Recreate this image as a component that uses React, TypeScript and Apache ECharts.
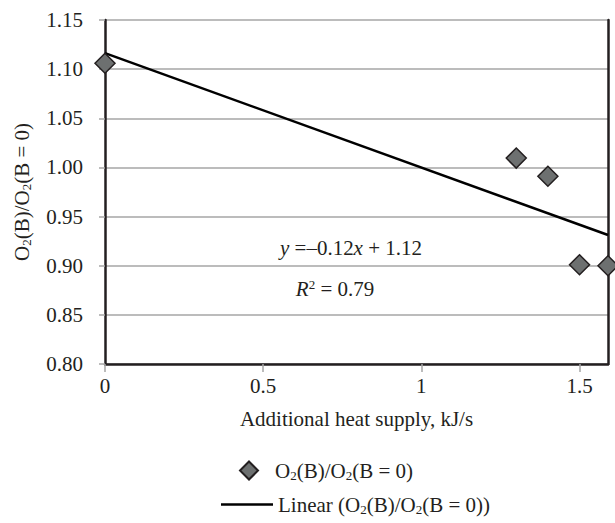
import React, { useEffect, useRef } from 'react';
import * as echarts from 'echarts';

const heatSupply = [0, 1.3, 1.4, 1.5, 1.59];
const o2Ratio = [1.106, 1.0095, 0.991, 0.901, 0.9];
const xLabels = ['0', '0.5', '1', '1.5'];
const seriesName = 'O2(B)/O2(B = 0)';
const trendName = 'Linear (O2(B)/O2(B = 0))';
const xAxisTitle = 'Additional heat supply, kJ/s';
const yAxisTitle = 'O2(B)/O2(B = 0)';
const equationText = ['y', ' =\u20130.12', 'x', ' + 1.12'];
const r2Text = ['R', '2', ' = 0.79'];

const FONT = 'Liberation Serif';
const TXT = '#231f20';
const FS = 21;

const richO2 = (s: string) =>
  s
    .split('O2')
    .map((p) => (p ? `{a|${p}}` : ''))
    .join('{a|O}{s|2}');

const baseRich = (size: number) => ({
  a: { fontFamily: FONT, fontSize: size, color: TXT, lineHeight: 22 },
  s: { fontFamily: FONT, fontSize: size * 0.62, color: TXT, lineHeight: 8, verticalAlign: 'bottom' as const },
  sp: { width: 12, lineHeight: 22 },
});

function linReg(xs: number[], ys: number[]) {
  const n = xs.length;
  const mx = xs.reduce((a, b) => a + b, 0) / n;
  const my = ys.reduce((a, b) => a + b, 0) / n;
  let sxy = 0;
  let sxx = 0;
  for (let i = 0; i < n; i++) {
    sxy += (xs[i] - mx) * (ys[i] - my);
    sxx += (xs[i] - mx) ** 2;
  }
  const k = sxy / sxx;
  return { k, b: my - k * mx };
}

export default function App() {
  const ref = useRef<HTMLDivElement>(null);
  useEffect(() => {
    if (!ref.current) return;
    const chart = echarts.init(ref.current, undefined, { renderer: 'svg' });
    const xMax = Math.max(...heatSupply);
    const { k, b } = linReg(heatSupply, o2Ratio);
    const trend = [
      [0, b],
      [xMax, b + k * xMax],
    ];
    chart.setOption({
      animation: false,
      backgroundColor: '#fff',
      textStyle: { fontFamily: FONT },
      grid: { left: 105, right: 7, top: 20, bottom: 159, containLabel: false },
      xAxis: {
        type: 'value',
        min: 0,
        max: xMax,
        interval: 0.5,
        name: `{a|${xAxisTitle}}`,
        nameLocation: 'middle',
        nameGap: 44,
        nameTextStyle: { rich: baseRich(FS) },
        axisLine: { show: true, onZero: false, lineStyle: { color: TXT, width: 2.5 } },
        axisTick: { show: true, length: 8, lineStyle: { color: '#a6a6a6', width: 1.5 } },
        axisLabel: {
          showMaxLabel: false,
          margin: 11,
          rich: baseRich(FS),
          formatter: (v: number) => {
            const i = Math.round(v / 0.5);
            return Math.abs(v - i * 0.5) < 1e-6 && xLabels[i] !== undefined ? `{a|${xLabels[i]}}` : '';
          },
        },
        splitLine: { show: false },
      },
      yAxis: [
        {
          type: 'value',
          min: 0.8,
          max: 1.15,
          interval: 0.05,
          name: richO2(yAxisTitle),
          nameLocation: 'middle',
          nameGap: 72,
          nameTextStyle: { rich: baseRich(FS) },
          axisLine: { show: true, lineStyle: { color: TXT, width: 2.5 } },
          axisTick: { show: true, length: 6, lineStyle: { color: '#a6a6a6', width: 1.5 } },
          axisLabel: {
            margin: 22,
            rich: baseRich(FS),
            formatter: (v: number) => `{a|${v.toFixed(2)}}`,
          },
          splitLine: { show: true, lineStyle: { color: '#a6a6a6', width: 1.5 } },
        },
        {
          type: 'value',
          position: 'right',
          min: 0.8,
          max: 1.15,
          interval: 0.05,
          axisLine: { show: true, lineStyle: { color: TXT, width: 2.5 } },
          axisTick: { show: false },
          axisLabel: { show: false },
          splitLine: { show: false },
        },
      ],
      legend: [
        {
          data: [seriesName],
          left: 234,
          top: 455,
          itemWidth: 18,
          itemHeight: 18,
          formatter: (n: string) => '{sp|}' + richO2(n),
          textStyle: { rich: baseRich(FS) },
        },
        {
          data: [{ name: trendName, icon: 'rect' }],
          left: 216,
          top: 489,
          itemWidth: 52,
          itemHeight: 2.5,
          formatter: (n: string) => richO2(n),
          textStyle: { rich: baseRich(FS) },
        },
      ],
      series: [
        {
          name: trendName,
          type: 'line',
          data: trend,
          symbol: 'none',
          lineStyle: { color: '#000', width: 2.5 },
          itemStyle: { color: '#000' },
          z: 2,
          clip: false,
        },
        {
          name: seriesName,
          type: 'scatter',
          data: heatSupply.map((x, i) => [x, o2Ratio[i]]),
          symbol: 'diamond',
          symbolSize: 20,
          itemStyle: { color: '#6d7070', borderColor: '#231f20', borderWidth: 1.5, opacity: 1 },
          z: 3,
          clip: false,
        },
      ],
      graphic: [
        {
          type: 'text',
          x: 351,
          y: 248,
          style: {
            text: `{i|${equationText[0]}}{n|${equationText[1]}}{i|${equationText[2]}}{n|${equationText[3]}}`,
            align: 'center',
            verticalAlign: 'middle',
            rich: {
              i: { fontFamily: FONT, fontSize: FS, fontStyle: 'italic', fill: TXT },
              n: { fontFamily: FONT, fontSize: FS, fill: TXT },
            },
          },
        },
        {
          type: 'text',
          x: 335,
          y: 289,
          style: {
            text: `{i|${r2Text[0]}}{p|${r2Text[1]}}{n|${r2Text[2]}}`,
            align: 'center',
            verticalAlign: 'middle',
            rich: {
              i: { fontFamily: FONT, fontSize: FS, fontStyle: 'italic', fill: TXT, lineHeight: 22 },
              p: { fontFamily: FONT, fontSize: 13, fill: TXT, lineHeight: 8, verticalAlign: 'top' },
              n: { fontFamily: FONT, fontSize: FS, fill: TXT, lineHeight: 22 },
            },
          },
        },
      ],
    });
    return () => chart.dispose();
  }, []);
  return (
    <div
      ref={ref}
      style={{ position: 'fixed', left: 0, top: 0, width: 615, height: 523 }}
    />
  );
}
